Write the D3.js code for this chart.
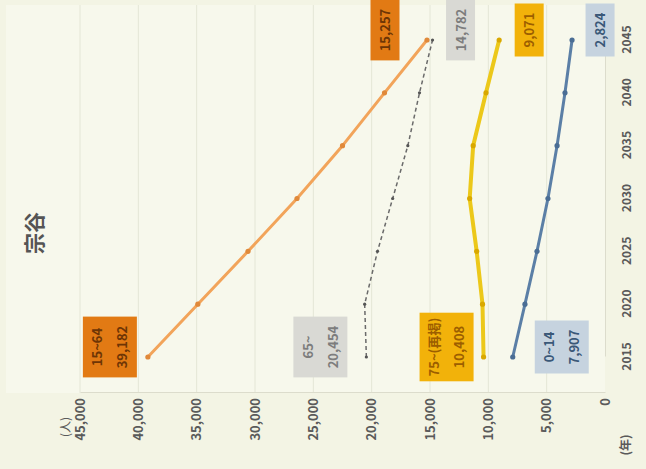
<!DOCTYPE html>
<html>
<head>
<meta charset="utf-8">
<script src="https://cdn.jsdelivr.net/npm/d3@7"></script>
<style>
  html, body { margin: 0; padding: 0; background: #f3f4e4; }
  svg { display: block; }
  text { font-family: "Noto Sans CJK JP", "Noto Sans", sans-serif; }
</style>
</head>
<body>
<svg id="chart" width="646" height="469"></svg>
<script>
// 宗谷: 年齢区分別人口の推移と将来推計
const years = [2015, 2020, 2025, 2030, 2035, 2040, 2045];
const valueTicks = [0, 5000, 10000, 15000, 20000, 25000, 30000, 35000, 40000, 45000];
const seriesNames = ["15~64", "65~", "75~(再掲)", "0~14"];
const pop15to64 = [39182, 34900, 30600, 26400, 22500, 18900, 15257];
const pop65plus = [20454, 20600, 19500, 18200, 16900, 15900, 14782];
const pop75plus = [10408, 10500, 11000, 11600, 11300, 10200, 9071];
const pop0to14 = [7907, 6860, 5830, 4890, 4110, 3430, 2824];

const W = 469, H = 646; // chart drawn upright, then turned a quarter left
const svg = d3.select("#chart");
const g = svg.append("g").attr("transform", `translate(0,${646 - (646 - 469)}) rotate(-90)`);
// after rotate(-90) + translate(0,469): screen x = v, screen y = 469 - u

const x = d3.scaleLinear().domain([2015, 2045]).range([112, 429]);
const y = d3.scaleLinear().domain([0, 45000]).range([605, 80]);

// plot background
g.append("rect").attr("x", 76).attr("y", 6).attr("width", 388).attr("height", 599)
  .attr("fill", "#f7f8ec");

// value gridlines
g.append("g").selectAll("line").data(valueTicks.slice(1)).join("line")
  .attr("x1", 76).attr("x2", 464)
  .attr("y1", d => y(d)).attr("y2", d => y(d))
  .attr("stroke", "#e4e6d6").attr("stroke-width", 1);

// value axis
const yAxis = d3.axisLeft(y).tickValues(valueTicks).tickFormat(d3.format(",")).tickSize(0).tickPadding(5);
const ya = g.append("g").attr("transform", "translate(76,0)").call(yAxis);
ya.select(".domain").attr("stroke", "#dcdccc");
ya.selectAll("text").attr("fill", "#5a5a5a").attr("font-size", 13).attr("font-weight", "bold");

// year axis
const xAxis = d3.axisBottom(x).tickValues(years).tickFormat(d3.format("d")).tickSize(0).tickPadding(17);
const xa = g.append("g").attr("transform", "translate(0,605)").call(xAxis);
xa.select(".domain").attr("stroke", "#dcdccc");
xa.selectAll("text").attr("fill", "#5a5a5a").attr("font-size", 12).attr("font-weight", "bold");

// unit labels
g.append("text").attr("x", 42).attr("y", 70).attr("text-anchor", "middle")
  .attr("fill", "#5a5a5a").attr("font-size", 12).text("(人)");
g.append("text").attr("x", 24).attr("y", 630).attr("text-anchor", "middle")
  .attr("fill", "#5a5a5a").attr("font-size", 12).attr("font-weight", "bold").text("(年)");

// title
g.append("text").attr("x", 236).attr("y", 42).attr("text-anchor", "middle")
  .attr("fill", "#555").attr("font-size", 21).attr("font-weight", "bold").text("宗谷");

const series = [
  { name: seriesNames[0], values: pop15to64, color: "#f2a45a", dot: "#e0893a", width: 3, dash: null,
    box: "#e27a14", ink: "#6e3505", startOff: -38, endOff: -42 },
  { name: seriesNames[1], values: pop65plus, color: "#6a6a6a", dot: "#555", width: 1.5, dash: "4,3",
    box: "#d9d9d4", ink: "#7d7d7d", startOff: -46, endOff: 28 },
  { name: seriesNames[2], values: pop75plus, color: "#ecc81a", dot: "#d9a800", width: 4, dash: null,
    box: "#f2b20a", ink: "#9c5e00", startOff: -37, endOff: 30 },
  { name: seriesNames[3], values: pop0to14, color: "#5b7fa6", dot: "#4a6d94", width: 3, dash: null,
    box: "#c6d3df", ink: "#3a5878", startOff: 49, endOff: 28 }
];

const line = d3.line().x((d, i) => x(years[i])).y(d => y(d));
const fmt = d3.format(",");

series.forEach(s => {
  g.append("path").datum(s.values)
    .attr("d", line).attr("fill", "none")
    .attr("stroke", s.color).attr("stroke-width", s.width)
    .attr("stroke-dasharray", s.dash).attr("stroke-linejoin", "round");
  g.append("g").selectAll("circle").data(s.values).join("circle")
    .attr("cx", (d, i) => x(years[i])).attr("cy", d => y(d))
    .attr("r", s.width > 2 ? 2.6 : 1.6).attr("fill", s.dot);
});

// data label boxes
function labelBox(cx, cy, lines, s) {
  const lh = 25, padX = 7;
  const bw = d3.max(lines, t => t.length) * 7.8 + padX * 2;
  const bh = lines.length * lh + 4;
  const grp = g.append("g");
  grp.append("rect")
    .attr("x", cx - bw / 2).attr("y", cy - bh / 2)
    .attr("width", bw).attr("height", bh).attr("fill", s.box);
  lines.forEach((t, i) => {
    grp.append("text")
      .attr("x", cx).attr("y", cy - bh / 2 + 2 + lh * i + lh / 2 + 5)
      .attr("text-anchor", "middle").attr("fill", s.ink)
      .attr("font-size", 13).attr("font-weight", "bold").text(t);
  });
}

series.forEach(s => {
  const n = s.values.length - 1;
  labelBox(x(years[0]) + 10, y(s.values[0]) + s.startOff, [s.name, fmt(s.values[0])], s);
  labelBox(x(years[n]) + 10, y(s.values[n]) + s.endOff, [fmt(s.values[n])], s);
});
</script>
</body>
</html>
